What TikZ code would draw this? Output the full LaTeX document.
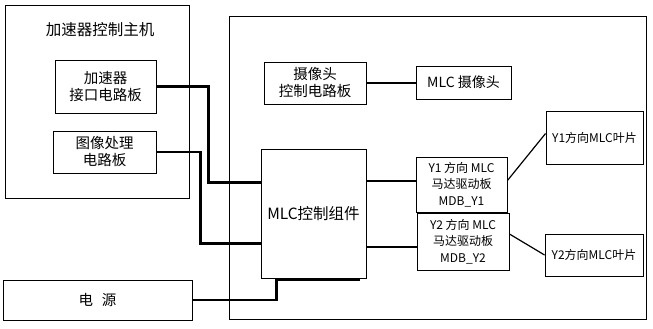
\documentclass[tikz,border=0pt]{standalone}
\usepackage{fontspec}
\setmainfont{Noto Sans CJK SC}
\usetikzlibrary{positioning}

\begin{document}
\begin{tikzpicture}[x=1pt, y=-1pt,
        box/.style = {draw, line width=0.9pt, inner sep=0pt, align=center, font=\fontsize{14.5}{17}\selectfont},
        board/.style = {box, font=\fontsize{12}{16.5}\selectfont},
        leaf/.style = {box, font=\fontsize{12}{14}\selectfont},
        frame/.style = {draw, line width=0.9pt, inner sep=0pt},
        wire/.style = {line width=2.4pt},
        link/.style = {line width=1.6pt},
        skew/.style = {line width=1.2pt}
    ]
    \useasboundingbox (0,0) rectangle (653,329);

    % host computer
    \node[frame, minimum width=184pt, minimum height=193pt] (host) at (97,101.5) {};
    \node[font=\fontsize{15.5}{18}\selectfont] (hosttitle) at (100,30) {加速器控制主机};
    \node[box, minimum width=101pt, minimum height=53pt] (accif) at (105.5,86.5) {加速器\\接口电路板};
    \node[box, minimum width=103pt, minimum height=42pt] (imgproc) at (104.5,152) {图像处理\\电路板};

    % power supply
    \node[box, minimum width=189pt, minimum height=40pt] (power) at (97.5,300) {电\hspace{0.6em}源};

    % MLC cabinet
    \node[frame, minimum width=417pt, minimum height=303pt] (cabinet) at (437.5,167.5) {};
    \node[box, minimum width=102pt, minimum height=42pt] (camctl) at (315,83) {摄像头\\控制电路板};
    \node[box, font=\fontsize{14}{16}\selectfont, minimum width=95pt, minimum height=33pt] (cam) at (463.5,82.5) {MLC 摄像头};
    \node[box, font=\fontsize{15.5}{18}\selectfont, minimum width=105pt, minimum height=129pt] (mlc) at (313.5,213.5) {MLC控制组件};
    \node[board, minimum width=91pt, minimum height=55pt] (ybrd1) at (461.5,184.5) {Y1 方向 MLC\\马达驱动板\\MDB\_Y1};
    \node[board, minimum width=92pt, minimum height=57pt] (ybrd2) at (463,241.5) {Y2 方向 MLC\\马达驱动板\\MDB\_Y2};
    \node[leaf, minimum width=97pt, minimum height=53pt] (leaf1) at (594.5,137.5) {Y1方向MLC叶片};
    \node[leaf, minimum width=98pt, minimum height=42pt] (leaf2) at (594,255) {Y2方向MLC叶片};

    % connections
    \draw[wire] (accif.east) -- ++(52,0) |- ([yshift=31pt]mlc.west);
    \draw[wire] (imgproc.east) -- ++(44,0) |- ([yshift=-30pt]mlc.west);
    \draw[wire] (power.east) -| ([xshift=-37pt,yshift=-1.5pt]mlc.south) -- ([xshift=-6pt,yshift=-1.5pt]mlc.south east);
    \draw[link] (camctl.east) -- (cam.west |- camctl.east);
    \draw[link] ([yshift=3.5pt]ybrd1.west) -- ([yshift=3.5pt]ybrd1.west -| mlc.east);
    \draw[link] ([yshift=-5.5pt]ybrd2.west) -- ([yshift=-5.5pt]ybrd2.west -| mlc.east);
    \draw[skew] ([yshift=4pt]ybrd1.east) -- ([yshift=4pt]leaf1.west);
    \draw[skew] ([yshift=7.5pt]ybrd2.east) -- (leaf2.west);
\end{tikzpicture}
\end{document}
